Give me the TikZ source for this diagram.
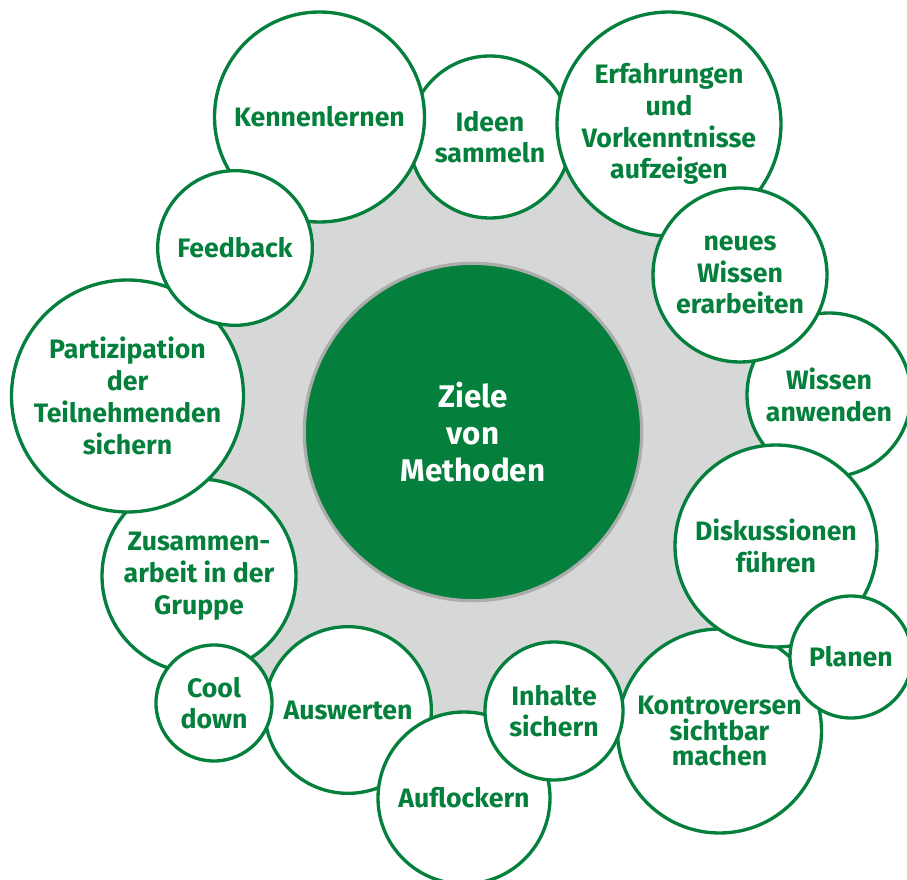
\documentclass[tikz,border=0pt]{standalone}
\usepackage{fontspec}
\setmainfont{Fira Sans}
\definecolor{methgreen}{RGB}{4,128,60}
\definecolor{methgrey}{RGB}{214,216,215}
\definecolor{ringgrey}{RGB}{172,172,172}
\begin{document}
\begin{tikzpicture}[x=0.75pt, y=-0.75pt,
    bubble/.style={circle, draw=methgreen, line width=2.5pt, fill=white, text=methgreen, inner sep=0pt, align=center, font=\fontsize{20}{23.8}\selectfont\bfseries},
    core/.style={circle, draw=ringgrey, line width=2.4pt, fill=methgreen, text=white, inner sep=0pt, align=center, font=\fontsize{23.5}{27.8}\selectfont\bfseries}]
    \useasboundingbox (0, 0) rectangle (907, 880);
    \fill[methgrey] (470, 438) circle (244.5pt);
    \node[core, minimum size=253pt] (ziele) at (473, 432) {Ziele\\von\\Methoden};
    \node[bubble, minimum size=121.5pt] (ideen) at (490, 137) {Ideen\\sammeln};
    \node[bubble, minimum size=157.5pt] (kennen) at (319.5, 117) {Kennenlernen};
    \node[bubble, minimum size=168pt] (erfahr) at (669, 124) {Erfahrungen\\und\\Vorkenntnisse\\aufzeigen};
    \node[bubble, minimum size=123pt] (anwend) at (829, 395) {Wissen\\anwenden};
    \node[bubble, minimum size=130.5pt] (neues) at (740, 275) {neues\\Wissen\\erarbeiten};
    \node[bubble, minimum size=153pt, font=\fontsize{20}{19.3}\selectfont\bfseries] (kontro) at (719.5, 731) {Kontroversen\\sichtbar\\machen};
    \node[bubble, minimum size=151.5pt] (diskus) at (776, 546) {Diskussionen\\führen};
    \node[bubble, minimum size=91.5pt] (planen) at (851, 657) {Planen};
    \node[bubble, minimum size=125pt] (auswert) at (348, 710) {Auswerten};
    \node[bubble, minimum size=129pt] (aufl) at (464, 798) {Auflockern};
    \node[bubble, minimum size=103.5pt] (inhalte) at (554, 711) {Inhalte\\sichern};
    \node[bubble, minimum size=145.5pt] (zusam) at (199, 576) {Zusammen-\\arbeit in der\\Gruppe};
    \node[bubble, minimum size=87pt] (cool) at (214, 703) {Cool\\down};
    \node[bubble, minimum size=174pt] (partiz) at (127.5, 396) {Partizipation\\der\\Teilnehmenden\\sichern};
    \node[bubble, minimum size=116pt] (feedb) at (235, 248) {Feedback};
\end{tikzpicture}
\end{document}
